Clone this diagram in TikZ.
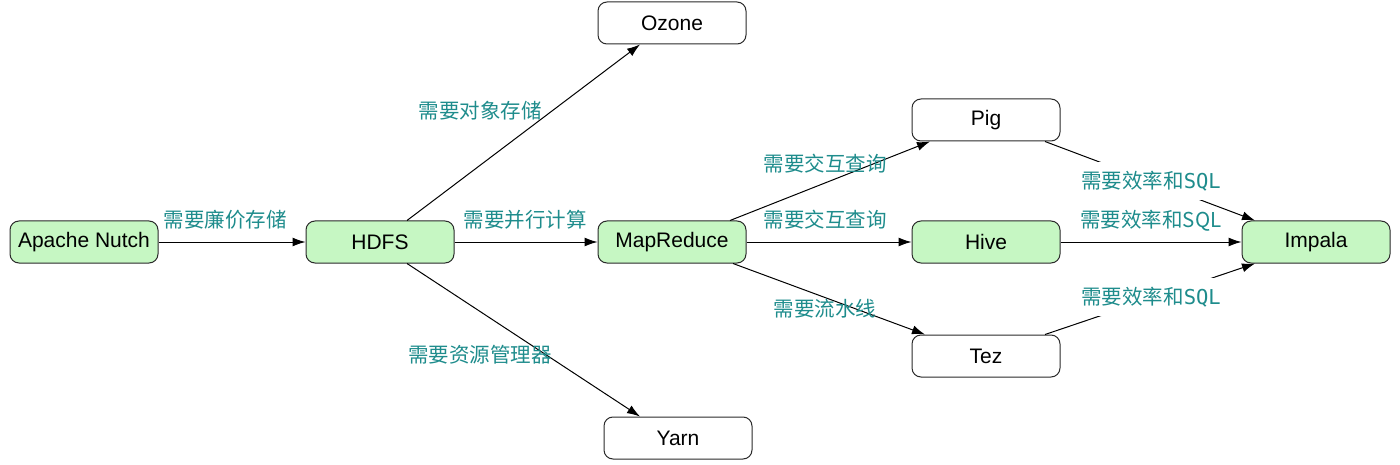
\documentclass[tikz,border=0pt]{standalone}
\usepackage{fontspec}
\setmainfont{Liberation Sans}
\newfontfamily\cjk{Noto Sans CJK SC}
\newfontfamily\monof{DejaVu Sans Mono}
\usetikzlibrary{arrows.meta,calc}
\definecolor{boxgreen}{HTML}{C6F7C3}
\definecolor{labteal}{HTML}{1E8C8C}
\definecolor{boxline}{HTML}{2A2A2A}
\begin{document}
\begin{tikzpicture}[x=1pt,y=-1pt,
  box/.style={draw=boxline,line width=1pt,rounded corners=9pt,minimum width=148pt,minimum height=42pt,inner sep=0pt,font=\fontsize{21}{24}\selectfont,text=black},
  gbox/.style={box,fill=boxgreen},
  wbox/.style={box,fill=white},
  lab/.style={font=\cjk\fontsize{20.5}{24}\selectfont,text=labteal,inner sep=1pt},
  conn/.style={draw=black,line width=1pt,-{Latex[length=13pt,width=9pt]}}]
\useasboundingbox (0,0) rectangle (1400,465);
\node[gbox] (nutch) at (84,242) {Apache Nutch};
\node[gbox] (hdfs) at (380,242) {HDFS};
\node[gbox] (mr) at (672,242) {MapReduce};
\node[wbox] (ozone) at (672,23) {Ozone};
\node[wbox] (yarn) at (678,438) {Yarn};
\node[wbox] (pig) at (986,120) {Pig};
\node[gbox] (hive) at (986,242) {Hive};
\node[wbox] (tez) at (986,356) {Tez};
\node[gbox] (impala) at (1316,242) {Impala};

\draw[conn] (nutch) -- (hdfs);
\draw[conn] (hdfs) -- (mr);
\draw[conn] ([xshift=27pt]hdfs.north) -- ([xshift=-32pt]ozone.south);
\draw[conn] ([xshift=27pt]hdfs.south) -- ([xshift=-38pt]yarn.north);
\draw[conn] ([xshift=58pt]mr.north) -- ([xshift=-56pt]pig.south);
\draw[conn] (mr) -- (hive);
\draw[conn] ([xshift=61pt]mr.south) -- ([xshift=-61pt]tez.north);
\draw[conn] ([xshift=59pt]pig.south) -- ([xshift=-61pt]impala.north);
\draw[conn] (hive) -- (impala);
\draw[conn] ([xshift=59pt]tez.north) -- ([xshift=-61pt]impala.south);

\node[lab] (l1) at (225,220) {需要廉价存储};
\node[lab] (l2) at (525,220) {需要并行计算};
\node[lab] (l3) at (480,111) {需要对象存储};
\node[lab] (l4) at (480,355) {需要资源管理器};
\node[lab] (l5) at (825,164) {需要交互查询};
\node[lab] (l6) at (825,220) {需要交互查询};
\node[lab] (l7) at (825,309) {需要流水线};
\node[lab,fill=white,inner xsep=8pt,inner ysep=9pt] (l8) at (1151,181) {需要效率和{\monof SQL}};
\node[lab] (l9) at (1151,221) {需要效率和SQL};
\node[lab,fill=white,inner xsep=8pt,inner ysep=9pt] (l10) at (1151,297) {需要效率和{\monof SQL}};
\end{tikzpicture}
\end{document}
